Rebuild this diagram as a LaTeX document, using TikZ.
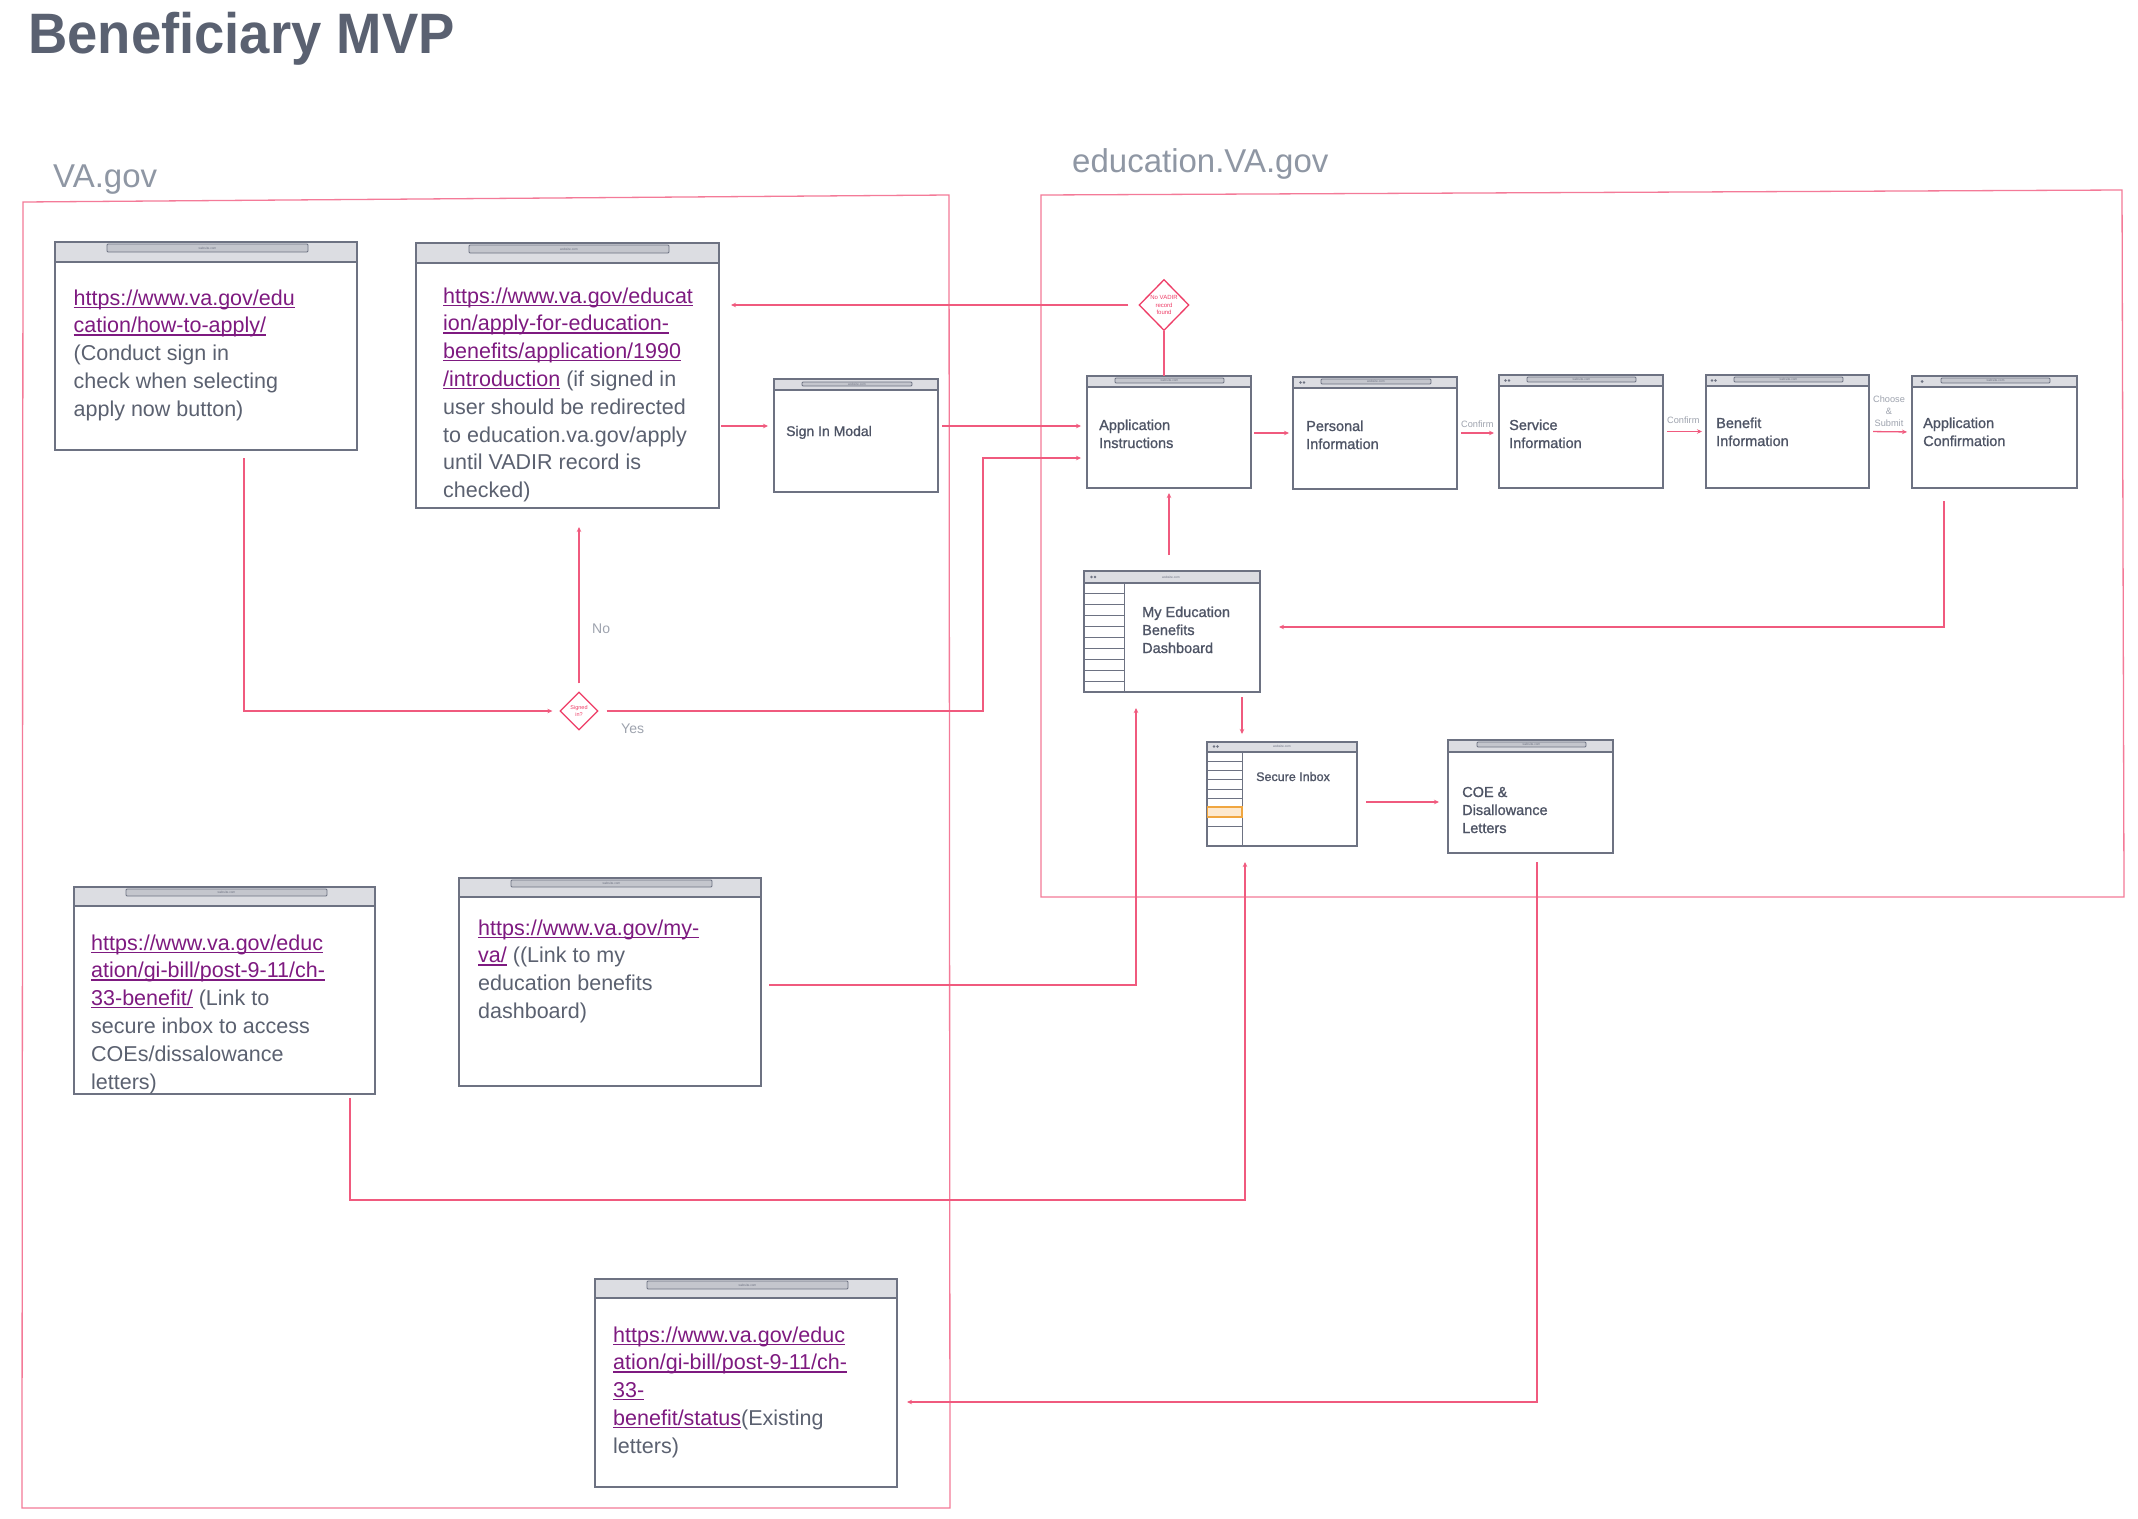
\documentclass[tikz,border=0pt]{standalone}
\usepackage{fontspec}
\usepackage{graphicx}
\setmainfont{Liberation Sans}
\newfontfamily\medfont[FakeBold=1.1]{Liberation Sans}
\usetikzlibrary{calc,arrows.meta,shapes.geometric}
\definecolor{titlec}{HTML}{5A6171}
\definecolor{regtxt}{HTML}{8F97A4}
\definecolor{regc}{HTML}{F47A98}
\definecolor{connc}{HTML}{F05A7E}
\definecolor{diac}{HTML}{EE3D67}
\definecolor{winc}{HTML}{6D7282}
\definecolor{barc}{HTML}{DCDDE2}
\definecolor{addrc}{HTML}{C4C6CD}
\definecolor{txtc}{HTML}{5B6170}
\definecolor{lblc}{HTML}{4E5465}
\definecolor{linkc}{HTML}{7E1A80}
\definecolor{grayl}{HTML}{9EA3AE}
\definecolor{hlfill}{HTML}{FDE9CF}
\definecolor{hldraw}{HTML}{F0A640}
\newcommand\lk[1]{{\color{linkc}\setbox0\hbox{#1}\rlap{\rule[-2.8pt]{\wd0}{1.2pt}}\box0}}
\newcommand\mylines[1]{\begin{tabular}[t]{@{}l@{}}#1\end{tabular}}
\newcommand\mywin[6]{%
  \node[winbody, anchor=north west, minimum width={(#4)-(#2)}, minimum height={(#5)-(#3)}] (#1) at (#2,#3) {};
  \fill[barc] (#1.north west) rectangle ($(#1.north east)+(0,#6)$);
  \draw[winline] ($(#1.north west)+(0,#6)$) -- ($(#1.north east)+(0,#6)$);
  \draw[winline] (#1.north west) rectangle (#1.south east);
}
\newcommand\myaddr[5]{%
  \draw[addrst] (#2,#3) rectangle (#4,#5);
  \node[tinyt] (#1) at ({(#2+#4)/2},{(#3+#5)/2}) {website.com};
}
\begin{document}
\begin{tikzpicture}[x=1pt,y=-1pt,
  winbody/.style={rectangle, fill=white, draw=none, inner sep=0pt, outer sep=0pt},
  winline/.style={draw=winc, line width=1.4pt},
  thinline/.style={draw=winc, line width=1pt},
  addrst/.style={fill=addrc, draw=winc, line width=0.9pt, rounded corners=1pt},
  tinyt/.style={inner sep=0pt, text=winc, font=\fontsize{3.2}{3.5}\selectfont},
  conn/.style={draw=connc, line width=1.3pt, -{Stealth[length=5pt,width=4.5pt]}},
  plainconn/.style={draw=connc, line width=1.3pt},
  regionline/.style={draw=regc, line width=1.3pt},
  bodytxt/.style={inner sep=0pt, anchor=base west, text=txtc, font=\fontsize{21.5}{27.8}\selectfont},
  lbl/.style={inner sep=0pt, anchor=base west, text=lblc, font=\medfont\fontsize{14.5}{18}\selectfont},
  smalllbl/.style={inner sep=0pt, text=grayl, font=\fontsize{9.2}{12}\selectfont},
  yesno/.style={inner sep=0pt, anchor=base west, text=grayl, font=\fontsize{14}{16}\selectfont},
  dia/.style={diamond, draw=diac, line width=1.3pt, fill=white, inner sep=0pt, text=diac, align=center}
]
\useasboundingbox (0,0) rectangle (2138,1518);
\fill[white] (0,0) rectangle (2138,1518);

% title and regions
\node[anchor=base west, inner sep=0pt, text=titlec, font=\bfseries\fontsize{57}{60}\selectfont] (title) at (28,53) {\scalebox{0.955}[1]{Beneficiary MVP}};
\node[anchor=base west, inner sep=0pt, text=regtxt, font=\fontsize{33}{36}\selectfont] (vagov) at (53,187) {VA.gov};
\node[anchor=base west, inner sep=0pt, text=regtxt, font=\fontsize{33}{36}\selectfont] (edugov) at (1072,172) {education.VA.gov};
\draw[regionline] (23,202) -- (949,195) -- (950,1508) -- (22,1508) -- cycle;
\draw[regionline] (1041,195) -- (2122,190) -- (2124,897) -- (1041,897) -- cycle;

% windows
\mywin{B1}{55}{242}{357}{450}{20}
\myaddr{a1}{107}{244}{308}{252}
\mywin{B2}{416}{243}{719}{508}{20}
\myaddr{a2}{469}{245}{669}{253}
\mywin{B3}{774}{379}{938}{492}{11}
\myaddr{a3}{802}{382}{912}{386}
\mywin{B4}{1087}{376}{1251}{488}{11}
\myaddr{a4}{1115}{378}{1224}{383}
\mywin{B5}{1293}{377}{1457}{489}{11}
\myaddr{a5}{1321}{379}{1431}{384}
\mywin{B6}{1499}{375}{1663}{488}{11}
\myaddr{a6}{1527}{377}{1636}{382}
\mywin{B7}{1706}{375}{1869}{488}{11}
\myaddr{a7}{1734}{377}{1843}{382}
\mywin{B8}{1912}{376}{2077}{488}{11}
\myaddr{a8}{1941}{378}{2050}{383}
\mywin{B9}{1084}{571}{1260}{692}{12}
\mywin{B10}{1207}{742}{1357}{846}{10}
\mywin{B11}{1448}{740}{1613}{853}{12}
\myaddr{a11}{1477}{742}{1586}{747}
\mywin{B12}{74}{887}{375}{1094}{19}
\myaddr{a12}{126}{889}{327}{896}
\mywin{B13}{459}{878}{761}{1086}{19}
\myaddr{a13}{511}{880}{712}{887}
\mywin{B14}{595}{1279}{897}{1487}{19}
\myaddr{a14}{647}{1281}{848}{1289}

% title bar icons
\fill[winc] (1300.5,382.5) circle (1.4); \fill[winc] (1304,382.5) circle (1.4);
\fill[winc] (1505.5,380.5) circle (1.4); \fill[winc] (1509,380.5) circle (1.4);
\fill[winc] (1712,380.5) circle (1.4); \fill[winc] (1715.5,380.5) circle (1.4);
\fill[winc] (1922,381.5) circle (1.5);
\fill[winc] (1091.5,577) circle (1.4); \fill[winc] (1095,577) circle (1.4);
\fill[winc] (1214,746.5) circle (1.3); \fill[winc] (1217.5,746.5) circle (1.3);
\node[tinyt] (w9) at (1171,577) {website.com};
\node[tinyt] (w10) at (1282,746.5) {website.com};

% sidebars
\draw[thinline] (1124,583) -- (1124,692);
\foreach \k in {1,...,9} {\draw[thinline] (1084,{583+\k*10.9}) -- (1124,{583+\k*10.9});}
\draw[thinline] (1242,752) -- (1242,846);
\foreach \yy in {761,770,779,789,798,817,826} {\draw[thinline] (1207,\yy) -- (1242,\yy);}
\draw[fill=hlfill, draw=hldraw, line width=1.2pt] (1207.7,807) rectangle (1242,817);

% body texts
\node[bodytxt] (t1) at (73.5,305) {\mylines{\lk{https://www.va.gov/edu}\\ \lk{cation/how-to-apply/}\\ (Conduct sign in\\ check when selecting\\ apply now button)}};
\node[bodytxt] (t2) at (443,303) {\mylines{\lk{https://www.va.gov/educat}\\ \lk{ion/apply-for-education-}\\ \lk{benefits/application/1990}\\ \lk{/introduction} (if signed in\\ user should be redirected\\ to education.va.gov/apply\\ until VADIR record is\\ checked)}};
\node[bodytxt] (t12) at (91,950) {\mylines{\lk{https://www.va.gov/educ}\\ \lk{ation/gi-bill/post-9-11/ch-}\\ \lk{33-benefit/} (Link to\\ secure inbox to access\\ COEs/dissalowance\\ letters)}};
\node[bodytxt] (t13) at (478,935) {\mylines{\lk{https://www.va.gov/my-}\\ \lk{va/} ((Link to my\\ education benefits\\ dashboard)}};
\node[bodytxt] (t14) at (613,1342) {\mylines{\lk{https://www.va.gov/educ}\\ \lk{ation/gi-bill/post-9-11/ch-}\\ \lk{33-}\\ \lk{benefit/status}(Existing\\ letters)}};

% window labels
\node[lbl, font=\medfont\fontsize{14}{18}\selectfont] (l3) at (786,436) {Sign In Modal};
\node[lbl] (l4) at (1099,430) {\mylines{Application\\ Instructions}};
\node[lbl] (l5) at (1306,431) {\mylines{Personal\\ Information}};
\node[lbl] (l6) at (1509,430) {\mylines{Service\\ Information}};
\node[lbl] (l7) at (1716,428) {\mylines{Benefit\\ Information}};
\node[lbl] (l8) at (1923,428) {\mylines{Application\\ Confirmation}};
\node[lbl] (l9) at (1142,617) {\mylines{My Education\\ Benefits\\ Dashboard}};
\node[lbl, font=\medfont\fontsize{12.5}{15}\selectfont] (l10) at (1256,781) {Secure Inbox};
\node[lbl] (l11) at (1462,797) {\mylines{COE \&\\ Disallowance\\ Letters}};

% diamonds
\node[dia, minimum width=50pt, minimum height=51pt, font=\fontsize{6}{7.2}\selectfont] (D1) at (1164,305) {No VADIR\\record\\found};
\node[dia, minimum width=38pt, minimum height=38pt, font=\fontsize{5.5}{6.5}\selectfont] (D2) at (579,711) {Signed\\in?};

% connectors
\draw[conn, shorten <=8pt, shorten >=7pt] ($(B1.south)+(38,0)$) |- (D2.west);
\draw[conn, shorten <=8pt, shorten >=19pt] (D2.north) -- (D2.north |- B2.south);
\draw[conn, shorten <=8pt, shorten >=6pt] (D2.east) -| ($(B4.west)+(-104,26)$) -- ($(B4.west)+(0,26)$);
\draw[conn, shorten <=2pt, shorten >=6pt] ($(B2.east)+(0,50.5)$) -- ($(B3.west)+(0,-9.5)$);
\draw[conn, shorten <=4pt, shorten >=6pt] ($(B3.east)+(0,-9.5)$) -- ($(B4.west)+(0,-6)$);
\draw[conn, shorten <=10pt, shorten >=12pt] (D1.west) -- (D1.west -| B2.east);
\draw[plainconn] (D1.south) -- (D1.south |- B4.north);
\draw[conn, shorten <=3pt, shorten >=4pt] ($(B4.east)+(0,1)$) -- (B5.west);
\draw[conn, shorten <=4pt, shorten >=5pt] (B5.east) -- ($(B6.west)+(0,1.5)$);
\draw[conn, shorten <=4pt, shorten >=4pt] (B6.east) -- (B7.west);
\draw[conn, shorten <=4pt, shorten >=5pt] (B7.east) -- (B8.west);
\draw[conn, shorten <=13pt, shorten >=19pt] ($(B8.south)+(-50.5,0)$) |- ($(B9.east)+(0,-4.5)$);
\draw[conn, shorten <=16pt, shorten >=5pt] (B4.south |- B9.north) -- (B4.south);
\draw[conn, shorten <=5pt, shorten >=8pt] ($(B9.south)+(70,0)$) -- ($(B10.north)+(-40,0)$);
\draw[conn, shorten <=8pt, shorten >=16pt] ($(B13.east)+(0,3)$) -| ($(B9.south)+(-36,0)$);
\draw[conn, shorten <=4pt, shorten >=16pt] ($(B12.south)+(125.5,0)$) |- ($(B10.south)+(-37,354)$) -- ($(B10.south)+(-37,0)$);
\draw[conn, shorten <=9pt, shorten >=9pt] ($(B10.east)+(0,8)$) -- ($(B11.west)+(0,5.5)$);
\draw[conn, shorten <=9pt, shorten >=10pt] ($(B11.south)+(6.5,0)$) |- ($(B14.east)+(0,19)$);

% connector labels
\node[smalllbl, anchor=base west] (cf1) at (1461,427) {Confirm};
\node[smalllbl, anchor=base west] (cf2) at (1667,423) {Confirm};
\node[smalllbl, anchor=base] (cs) at (1889,402) {\begin{tabular}[t]{@{}c@{}}Choose\\ \&\\ Submit\end{tabular}};
\node[yesno] (no) at (592,633) {No};
\node[yesno] (yes) at (621,733) {Yes};
\end{tikzpicture}
\end{document}
